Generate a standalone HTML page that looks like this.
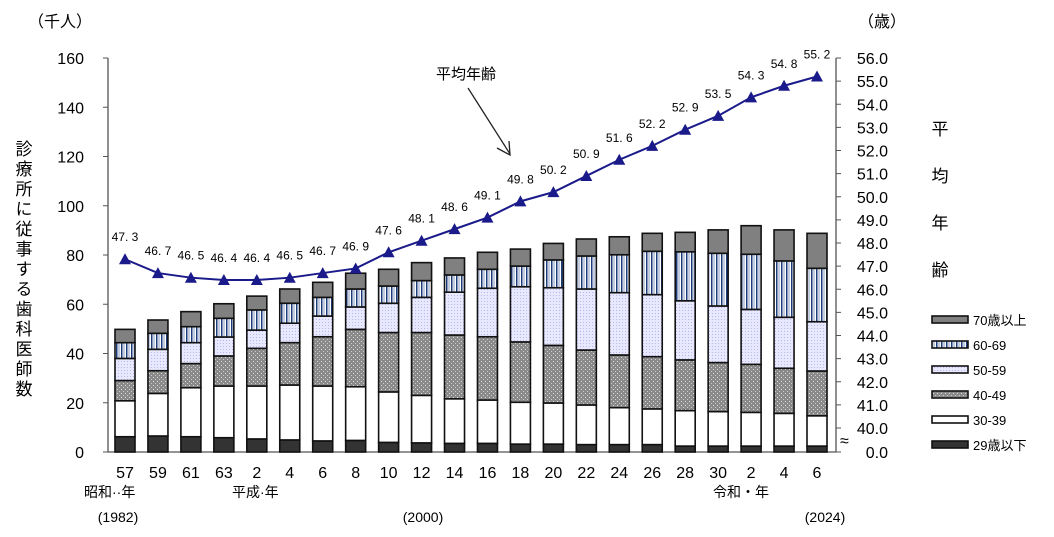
<!DOCTYPE html>
<html><head><meta charset="utf-8"><style>
body{margin:0;background:#fff;}
svg{display:block;font-family:"Liberation Sans","Noto Sans CJK JP",sans-serif;}
</style></head><body>
<svg id="chart" width="1054" height="537" viewBox="0 0 1054 537">
<defs>
<pattern id="p40" width="4" height="4" patternUnits="userSpaceOnUse"><rect width="4" height="4" fill="#8a8a8a"/><rect x="1" y="1" width="1" height="1" fill="#ddd"/><rect x="3" y="3" width="1" height="1" fill="#ccc"/></pattern>
<pattern id="p50" width="3" height="3" patternUnits="userSpaceOnUse"><rect width="3" height="3" fill="#e8e8ff"/><rect x="1" y="1" width="1" height="1" fill="#b8b8e8"/></pattern>
<pattern id="p60" width="5" height="5" patternUnits="userSpaceOnUse"><rect width="5" height="5" fill="#fff"/><rect x="1" width="1.5" height="5" fill="#1a3a7a"/><rect x="3.5" width="1" height="5" fill="#8a9abf"/></pattern>
</defs>
<g id="axes"></g>
<g id="bars"></g>
<g id="line"></g>
<g id="labels"></g>
</svg>
<script>
const categories=["57","59","61","63","2","4","6","8","10","12","14","16","18","20","22","24","26","28","30","2","4","6"];
const age29=[6.2,6.5,6.2,5.8,5.3,4.9,4.5,4.7,3.9,3.7,3.5,3.5,3.2,3.2,3.0,3.0,3.0,2.4,2.4,2.4,2.4,2.4];
const age30=[14.6,17.3,19.9,21.0,21.5,22.3,22.3,21.8,20.5,19.3,18.1,17.6,17.0,16.7,16.1,15.0,14.5,14.4,14.0,13.7,13.3,12.3];
const age40=[8.2,9.2,9.8,12.2,15.3,17.2,20.0,23.3,24.1,25.5,25.9,25.7,24.5,23.4,22.3,21.4,21.2,20.6,19.9,19.5,18.3,18.2];
const age50=[9.0,8.7,8.5,7.7,7.4,7.9,8.4,9.1,11.9,14.3,17.4,19.7,22.4,23.4,24.8,25.3,25.2,24.0,23.0,22.3,20.7,20.0];
const age60=[6.4,6.5,6.5,7.6,8.2,8.1,7.6,7.3,7.0,6.8,7.0,7.7,8.4,11.3,13.4,15.4,17.6,19.9,21.4,22.4,22.9,21.7];
const age70=[5.4,5.4,6.1,5.9,5.6,5.8,6.1,6.4,6.8,7.3,6.9,6.9,6.9,6.7,6.9,7.3,7.3,7.9,9.5,11.6,12.6,14.2];
const avgAge=[47.3,46.7,46.5,46.4,46.4,46.5,46.7,46.9,47.6,48.1,48.6,49.1,49.8,50.2,50.9,51.6,52.2,52.9,53.5,54.3,54.8,55.2];
const leftTicks=[0,20,40,60,80,100,120,140,160];
const rightTicks=[40,41,42,43,44,45,46,47,48,49,50,51,52,53,54,55,56];
const NS="http://www.w3.org/2000/svg";
const X0=108,X1=836,Y0=452;
const xPos=i=>125+i*(817-125)/(categories.length-1);
const yL=v=>Y0-v*(452-58)/160;
const yR=v=>428-(v-40)*(428-58)/16;
function mk(tag,attrs,parent,text){const e=document.createElementNS(NS,tag);for(const k in attrs)e.setAttribute(k,attrs[k]);if(text!==undefined)e.textContent=text;parent.appendChild(e);return e;}
const ax=document.getElementById('axes'),bg=document.getElementById('bars'),lg=document.getElementById('line'),lb=document.getElementById('labels');
let e=mk('line',{x1:X0,y1:58,x2:X0,y2:Y0,stroke:'#555','stroke-width':1.3},ax);

e=mk('line',{x1:X1,y1:58,x2:X1,y2:Y0,stroke:'#555','stroke-width':1.3},ax);

e=mk('line',{x1:X0,y1:Y0,x2:X1,y2:Y0,stroke:'#555','stroke-width':1.3},ax);

leftTicks.forEach(v=>{mk('line',{x1:X0-5,y1:yL(v),x2:X0,y2:yL(v),stroke:'#555'},ax);
 e=mk('text',{x:84,y:yL(v)+6,'text-anchor':'end','font-size':16,fill:'#000'},lb,String(v));
 });
rightTicks.forEach(v=>{mk('line',{x1:X1,y1:yR(v),x2:X1+5,y2:yR(v),stroke:'#555'},ax);
 e=mk('text',{x:888,y:yR(v)+6,'text-anchor':'end','font-size':16,fill:'#000'},lb,v.toFixed(1));
 });
mk('line',{x1:X1,y1:Y0,x2:X1+5,y2:Y0,stroke:'#555'},ax);
e=mk('text',{x:888,y:Y0+6,'text-anchor':'end','font-size':16},lb,'0.0');

e=mk('text',{x:840,y:446,'font-size':16},lb,'≈');

const series=[[age29,'#333'],[age30,'#fff'],[age40,'url(#p40)'],[age50,'url(#p50)'],[age60,'url(#p60)'],[age70,'#808080']];
const names=['bar-29-under','bar-30-39','bar-40-49','bar-50-59','bar-60-69','bar-70-over'];
categories.forEach((c,i)=>{let cum=0;series.forEach((s,k)=>{const v=s[0][i];const y1=yL(cum+v),y2=yL(cum);
 const r=mk('rect',{x:xPos(i)-10,y:y1,width:20,height:y2-y1,fill:s[1],stroke:'#111','stroke-width':1.6},bg);
 cum+=v;});
 e=mk('text',{x:xPos(i),y:478,'text-anchor':'middle','font-size':16},lb,c);
 });
const pts=avgAge.map((v,i)=>xPos(i)+','+yR(v)).join(' ');
e=mk('polyline',{points:pts,fill:'none',stroke:'#1a1a8a','stroke-width':2},lg);

avgAge.forEach((v,i)=>{const x=xPos(i),y=yR(v);
 e=mk('polygon',{points:`${x},${y-6} ${x-6},${y+5} ${x+6},${y+5}`,fill:'#1a1a8a'},lg);
 
 e=mk('text',{x:x,y:y-18,'text-anchor':'middle','font-size':12},lb,v.toFixed(1).replace('.','. '));
 });
</script>
<svg width="1054" height="537" style="position:absolute;left:0;top:0" font-family="Liberation Sans, Noto Sans CJK JP, sans-serif">
<text x="28" y="27" font-size="16">（千人）</text>
<text x="858" y="27" font-size="16">（歳）</text>
<text x="22" y="140" font-size="17" writing-mode="tb" letter-spacing="3" text-anchor="start">診療所に従事する歯科医師数</text>
<g font-size="17" text-anchor="middle">
<text x="940" y="135">平</text><text x="940" y="182">均</text><text x="940" y="229">年</text><text x="940" y="276">齢</text></g>
<text x="466" y="79" font-size="15" text-anchor="middle">平均年齢</text>
<line x1="468" y1="88" x2="510" y2="154" stroke="#222" stroke-width="1.3"/>
<polyline points="497,148 510,155 509,141" fill="none" stroke="#222" stroke-width="1.3"/>
<g font-size="14">
<text x="84" y="497">昭和··年</text><text x="232" y="497">平成·年</text><text x="713" y="497">令和・年</text></g>
<g font-size="14" text-anchor="middle">
<text x="118" y="522">(1982)</text><text x="423" y="522">(2000)</text><text x="825" y="522">(2024)</text></g>
<g font-size="13">
<rect x="932" y="316" width="36" height="7" fill="#808080" stroke="#111" stroke-width="1.6"/><text x="973" y="325">70歳以上</text>
<rect x="932" y="341" width="36" height="7" fill="url(#p60)" stroke="#111" stroke-width="1.6"/><text x="973" y="350">60-69</text>
<rect x="932" y="366" width="36" height="7" fill="url(#p50)" stroke="#111" stroke-width="1.6"/><text x="973" y="375">50-59</text>
<rect x="932" y="391" width="36" height="7" fill="url(#p40)" stroke="#111" stroke-width="1.6"/><text x="973" y="400">40-49</text>
<rect x="932" y="416" width="36" height="7" fill="#fff" stroke="#111" stroke-width="1.6"/><text x="973" y="425">30-39</text>
<rect x="932" y="441" width="36" height="7" fill="#333" stroke="#111" stroke-width="1.6"/><text x="973" y="450">29歳以下</text>
</g>
</svg>
</body></html>
